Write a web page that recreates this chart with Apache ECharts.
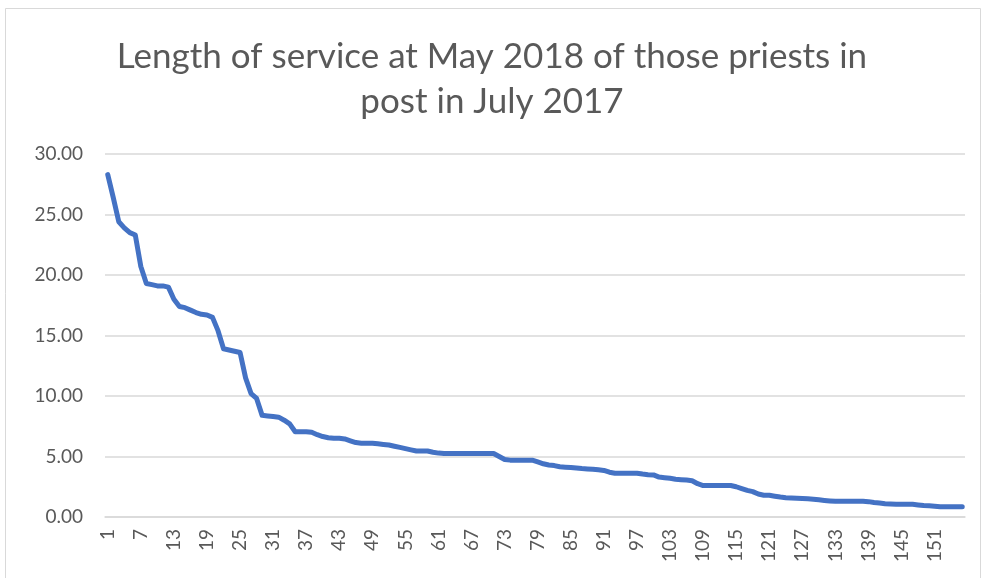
<!DOCTYPE html>
<html>
<head>
<meta charset="utf-8">
<script src="https://cdn.jsdelivr.net/npm/echarts@6/dist/echarts.min.js"></script>
<style>
  html, body { margin: 0; padding: 0; background: #fff; }
  #chart { width: 984px; height: 578px; }
</style>
</head>
<body>
<div id="chart"></div>
<script>
// years of service, priests sorted longest first
var serviceYears = [
  28.3, 26.4, 24.4, 23.9, 23.5, 23.3, 20.7, 19.3, 19.2, 19.1,
  19.1, 19.0, 18.0, 17.4, 17.3, 17.1, 16.9, 16.75, 16.7, 16.5,
  15.4, 13.9, 13.8, 13.7, 13.6, 11.5, 10.2, 9.8, 8.4, 8.35,
  8.3, 8.25, 8.0, 7.7, 7.05, 7.05, 7.05, 7.0, 6.8, 6.65,
  6.55, 6.5, 6.5, 6.45, 6.3, 6.15, 6.1, 6.1, 6.1, 6.05,
  6.0, 5.95, 5.85, 5.75, 5.65, 5.55, 5.45, 5.45, 5.45, 5.35,
  5.28, 5.25, 5.25, 5.25, 5.25, 5.25, 5.25, 5.25, 5.25, 5.25,
  5.25, 5.0, 4.75, 4.7, 4.7, 4.7, 4.7, 4.7, 4.55, 4.4,
  4.3, 4.25, 4.15, 4.12, 4.1, 4.05, 4.0, 3.97, 3.95, 3.9,
  3.85, 3.7, 3.62, 3.62, 3.62, 3.62, 3.62, 3.55, 3.5, 3.48,
  3.3, 3.25, 3.2, 3.12, 3.08, 3.05, 3.0, 2.75, 2.6, 2.6,
  2.6, 2.6, 2.6, 2.6, 2.5, 2.35, 2.2, 2.1, 1.9, 1.8,
  1.8, 1.72, 1.65, 1.6, 1.57, 1.55, 1.52, 1.5, 1.47, 1.42,
  1.37, 1.33, 1.3, 1.3, 1.3, 1.3, 1.3, 1.3, 1.27, 1.2,
  1.15, 1.1, 1.08, 1.05, 1.05, 1.05, 1.05, 1.0, 0.95, 0.92,
  0.88, 0.85, 0.85, 0.85, 0.85, 0.85
];
var priestNo = serviceYears.map(function (v, i) { return String(i + 1); });
var titleLines = ["Length of service at May 2018 of those priests in", "post in July 2017"];

var myChart = echarts.init(document.getElementById("chart"));
var option = {
  animation: false,
  backgroundColor: "#fff",
  title: {
    text: titleLines.join("\n"),
    left: "center",
    top: 29,
    textStyle: {
      fontFamily: "Lato",
      fontWeight: "normal",
      fontSize: 35,
      lineHeight: 45,
      color: "#595959"
    }
  },
  graphic: [{
    type: "rect",
    shape: { x: 5.5, y: 8.5, width: 975, height: 580 },
    style: { fill: "none", stroke: "#d9d9d9", lineWidth: 1 },
    silent: true
  }],
  grid: { left: 105, right: 19, top: 154, bottom: 61 },
  xAxis: {
    type: "category",
    data: priestNo,
    boundaryGap: true,
    axisTick: { show: false },
    axisLine: { lineStyle: { color: "#d9d9d9", width: 1.5 } },
    axisLabel: {
      interval: 5,
      rotate: 90,
      margin: 12,
      fontFamily: "Lato",
      fontSize: 19,
      color: "#595959"
    }
  },
  yAxis: {
    type: "value",
    min: 0,
    max: 30,
    interval: 5,
    axisLine: { show: false },
    axisTick: { show: false },
    splitLine: { lineStyle: { color: "#d9d9d9", width: 1.5 } },
    axisLabel: {
      margin: 22,
      fontFamily: "Lato",
      fontSize: 19,
      color: "#595959",
      formatter: function (v) { return v.toFixed(2); }
    }
  },
  series: [{
    type: "line",
    data: serviceYears,
    symbol: "none",
    lineStyle: { color: "#4472c4", width: 5, cap: "round", join: "round" }
  }]
};
myChart.setOption(option);
</script>
</body>
</html>
